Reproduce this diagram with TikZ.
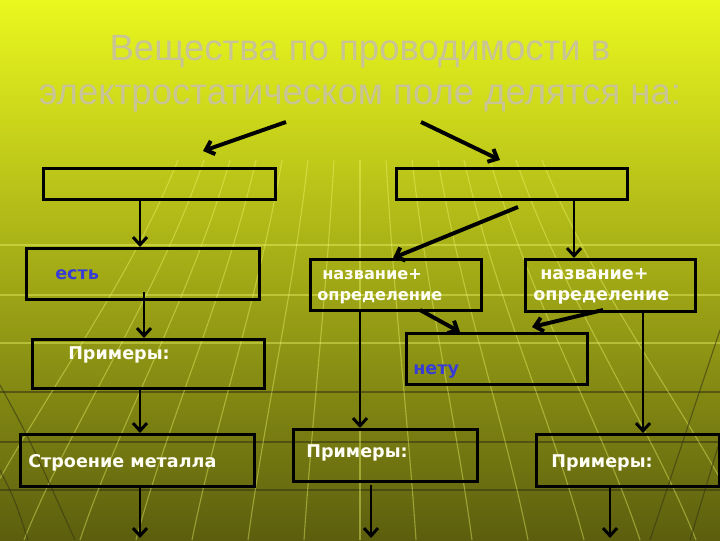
\documentclass[tikz,border=0pt]{standalone}
\usepackage{fontspec}
\setmainfont{DejaVu Sans}
\newfontfamily\titlefont{Liberation Sans}
\usetikzlibrary{arrows.meta}

\definecolor{bgtop}{RGB}{234,248,30}
\definecolor{bgmid}{RGB}{188,196,22}
\definecolor{bgbot}{RGB}{92,94,14}
\definecolor{titlecol}{RGB}{200,196,150}
\definecolor{textblue}{RGB}{55,60,215}
\definecolor{gridlight}{RGB}{240,250,110}
\definecolor{griddark}{RGB}{55,55,20}

\tikzset{
  box/.style={draw=black, line width=2.2pt, anchor=north west, inner sep=0pt},
  arr/.style={-{Straight Barb[length=5.5pt,width=10pt]}, line width=2.1pt},
  heavy/.style={arr, line width=2.8pt},
  lbl/.style={anchor=base west, inner sep=0pt, text=white!96!yellow,
    font=\bfseries\fontsize{12.5}{15}\selectfont},
  bluelbl/.style={lbl, text=textblue},
  heading/.style={anchor=base, inner sep=0pt, text=titlecol,
    font=\titlefont\fontsize{26}{31}\selectfont},
  gridline/.style={gridlight, opacity=0.4, line width=0.8pt},
  darkline/.style={griddark, opacity=0.6, line width=0.8pt}
}

\begin{document}
\begin{tikzpicture}[x=0.025cm, y=-0.025cm]
  % background
  \shade[top color=bgtop, middle color=bgmid, bottom color=bgbot]
    (0,0) rectangle (720,540);
  \useasboundingbox (0,0) rectangle (720,540);
  \foreach \y in {245,295,343}
    \draw[gridline] (0,\y) -- (720,\y);
  \foreach \y in {392,442,490}
    \draw[darkline] (0,\y) -- (720,\y);
  \foreach \i in {-7,...,7}
    \draw[gridline] (360+\i*26,160) .. controls (360+\i*34,300) and (360+\i*48,420) .. (360+\i*56,540);
  \draw[darkline] (0,385) .. controls (30,440) .. (75,540);
  \draw[darkline] (0,470) .. controls (15,500) .. (28,540);
  \draw[darkline] (720,330) .. controls (690,420) .. (650,540);
  \draw[darkline] (720,440) .. controls (705,490) .. (690,540);

  % heading
  \node[heading] (title1) at (360,60) {Вещества по проводимости в};
  \node[heading] (title2) at (360,104) {электростатическом поле делятся на:};

  % boxes
  \node[box, minimum width=5.8cm, minimum height=0.775cm] (kind1) at (42,167) {};
  \node[box, minimum width=5.775cm, minimum height=0.775cm] (kind2) at (395,167) {};
  \node[box, minimum width=5.825cm, minimum height=1.275cm] (est) at (25,247) {};
  \node[box, minimum width=5.8cm, minimum height=1.225cm] (prim1) at (31,338) {};
  \node[box, minimum width=5.85cm, minimum height=1.3cm] (metal) at (19,433) {};
  \node[box, minimum width=4.275cm, minimum height=1.275cm] (name1) at (309,258) {};
  \node[box, minimum width=4.25cm, minimum height=1.3cm] (name2) at (524,258) {};
  \node[box, minimum width=4.525cm, minimum height=1.275cm] (net) at (405,332) {};
  \node[box, minimum width=4.6cm, minimum height=1.3cm] (prim2) at (292,428) {};
  \node[box, minimum width=4.575cm, minimum height=1.3cm] (prim3) at (535,433) {};

  % texts
  \node[bluelbl] (estt) at (55,279) {есть};
  \node[lbl] (prim1t) at (68,359) {Примеры:};
  \node[lbl] (metalt) at (28,467) {Строение металла};
  \node[lbl, font=\bfseries\fontsize{11.5}{14}\selectfont] (name1a) at (322,279) {название+};
  \node[lbl, font=\bfseries\fontsize{11.5}{14}\selectfont] (name1b) at (317,300) {определение};
  \node[lbl] (name2a) at (540,279) {название+};
  \node[lbl] (name2b) at (533,300) {определение};
  \node[bluelbl] (nett) at (413,374) {нету};
  \node[lbl] (prim2t) at (306,457) {Примеры:};
  \node[lbl] (prim3t) at (551,467) {Примеры:};

  % connector ends
  \coordinate (t1) at (286,122);
  \coordinate (t2) at (203,151);
  \coordinate (t3) at (421,122);
  \coordinate (t4) at (500,160);
  \coordinate (e1) at (144,292);
  \coordinate (k2) at (518,207);
  \coordinate (n1) at (393,258);
  \coordinate (a1) at (420,310);
  \coordinate (a2) at (460,332);
  \coordinate (b1) at (603,310);
  \coordinate (b2) at (532,327);
  \coordinate (p2) at (371,485);
  \coordinate (c1) at (140,538);
  \coordinate (c2) at (360,0);
  \coordinate (c3) at (371,538);
  \coordinate (c4) at (574,0);
  \coordinate (c5) at (643,0);
  \coordinate (c6) at (610,538);

  % arrows
  \draw[heavy] (t1) -- (t2);
  \draw[heavy] (t3) -- (t4);
  \draw[arr] (kind1.south -| c1) -- (est.north -| c1);
  \draw[arr] (e1) -- (prim1.north -| e1);
  \draw[arr] (prim1.south -| c1) -- (metal.north -| c1);
  \draw[arr] (metal.south -| c1) -- (c1);
  \draw[heavy] (k2) -- (n1);
  \draw[arr] (kind2.south -| c4) -- (name2.north -| c4);
  \draw[heavy] (a1) -- (a2);
  \draw[heavy] (b1) -- (b2);
  \draw[arr] (name1.south -| c2) -- (prim2.north -| c2);
  \draw[arr] (name2.south -| c5) -- (prim3.north -| c5);
  \draw[arr] (p2) -- (c3);
  \draw[arr] (prim3.south -| c6) -- (c6);
\end{tikzpicture}
\end{document}
